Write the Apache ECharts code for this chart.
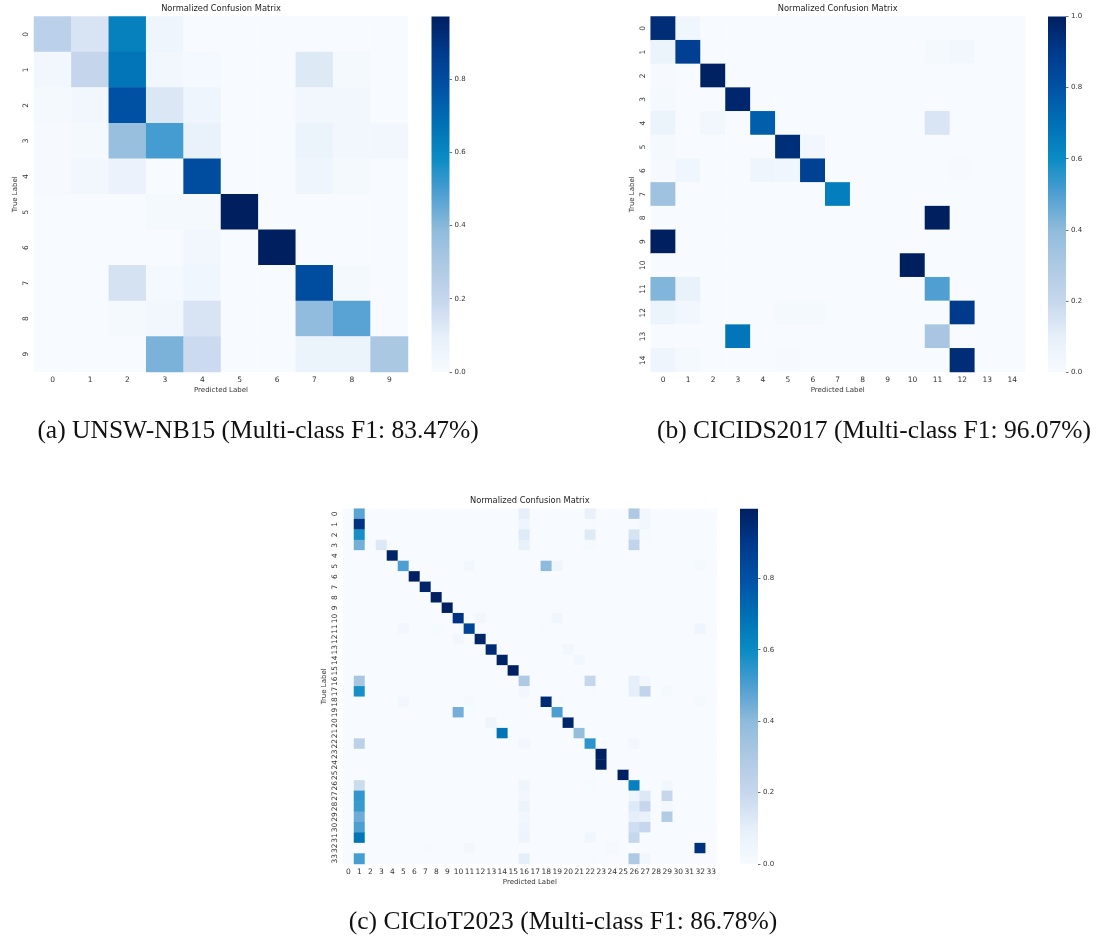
<!DOCTYPE html>
<html><head><meta charset="utf-8">
<style>html,body{margin:0;padding:0;background:#fff}#c{width:1100px;height:941px}</style>
<script src="https://cdn.jsdelivr.net/npm/echarts@6/dist/echarts.min.js"></script>
</head><body><div id="c"></div>
<script>
const chartTitle = 'Normalized Confusion Matrix';
const xName = 'Predicted Label';
const yName = 'True Label';
const captions = ['(a) UNSW-NB15 (Multi-class F1: 83.47%)','(b) CICIDS2017 (Multi-class F1: 96.07%)','(c) CICIoT2023 (Multi-class F1: 86.78%)'];
const barTicks = [0,0.2,0.4,0.6,0.8,1.0];
const blues = ['#f7fbff','#e6eff9','#c6d7ed','#aec9e4','#8fbbdc','#4f9fd2','#0a8cc4','#0070b5','#0052a5','#003a8c','#001f5f'];

// True-label rows, predicted-label columns
const unswMatrix = [
 [.24,.14,.62,.05,0,0,0,0,0,0],
 [.03,.20,.66,.03,.02,0,0,.12,.015,0],
 [.015,.03,.78,.13,.05,0,0,.035,.03,0],
 [.005,.015,.36,.50,.08,0,0,.06,.03,.03],
 [.005,.03,.07,0,.80,0,0,.05,.015,0],
 [0,0,0,.015,.015,.97,0,0,0,0],
 [0,0,0,0,.03,0,.97,0,0,0],
 [0,0,.15,.02,.04,0,0,.80,.015,0],
 [0,0,.015,.03,.14,0,0,.38,.47,0],
 [0,0,0,.42,.18,0,0,.06,.06,.30]
];
const cicids2017Matrix = [
 [.95,.04,0,0,0,0,0,0,0,0,0,0,0,0,0],
 [.07,.88,0,0,0,0,0,0,0,0,0,.015,.03,0,0],
 [.005,0,.99,0,0,0,0,0,0,0,0,0,0,0,0],
 [.02,0,0,.97,0,0,0,0,0,0,0,0,0,0,0],
 [.07,0,.03,0,.76,0,0,0,0,0,0,.14,0,0,0],
 [.02,0,0,0,0,.94,.03,0,0,0,0,0,0,0,0],
 [.005,.04,0,0,.05,.04,.87,0,0,0,0,0,.005,0,0],
 [.35,0,0,0,0,0,0,.65,0,0,0,0,0,0,0],
 [0,0,0,0,0,0,0,0,0,0,0,1,0,0,0],
 [1,0,0,0,0,0,0,0,0,0,0,0,0,0,0],
 [0,0,0,0,0,0,0,0,0,0,1,0,0,0,0],
 [.42,.08,0,0,0,0,0,0,0,0,0,.50,0,0,0],
 [.07,.03,0,0,0,.015,.015,0,0,0,0,0,.90,0,0],
 [0,0,0,.68,0,0,0,0,0,0,0,.32,0,0,0],
 [.05,.02,0,0,0,.005,0,0,0,0,0,0,.95,0,0]
];
// Sparse reading of the 34-class matrix: [row, col, value]
const ciciotCells = [
 [0,1,.48],[0,16,.10],[0,22,.08],[0,26,.30],[0,27,.03],
 [1,1,.92],[1,16,.05],[1,22,.005],[1,27,.03],
 [2,1,.58],[2,16,.12],[2,22,.12],[2,26,.15],[2,27,.01],
 [3,1,.44],[3,3,.13],[3,16,.09],[3,22,.015],[3,26,.22],
 [4,4,.98],
 [5,5,.50],[5,11,.03],[5,18,.40],[5,19,.05],[5,32,.015],
 [6,6,.99],[7,7,.97],[8,8,.99],[9,9,.99],
 [10,10,.92],[10,12,.03],[10,19,.04],
 [11,5,.03],[11,8,.01],[11,11,.85],[11,18,.005],[11,32,.05],
 [12,10,.03],[12,12,.97],
 [13,13,.95],[13,20,.03],
 [14,14,.98],[14,21,.03],
 [15,15,.99],
 [16,1,.32],[16,16,.30],[16,22,.20],[16,26,.10],[16,27,.03],
 [17,1,.58],[17,16,.03],[17,22,.005],[17,26,.10],[17,27,.22],[17,29,.015],
 [18,5,.03],[18,11,.015],[18,18,.95],[18,19,.005],[18,32,.015],
 [19,10,.44],[19,19,.50],
 [20,13,.06],[20,20,.97],
 [21,14,.68],[21,21,.38],
 [22,1,.24],[22,16,.03],[22,22,.55],[22,26,.03],
 [23,23,.99],[24,23,.99],[25,25,.99],
 [26,1,.18],[26,16,.05],[26,22,.01],[26,26,.64],[26,29,.03],
 [27,1,.54],[27,16,.03],[27,26,.05],[27,27,.13],[27,29,.20],
 [28,1,.53],[28,16,.07],[28,26,.12],[28,27,.20],[28,29,.03],
 [29,1,.45],[29,16,.03],[29,26,.10],[29,27,.08],[29,29,.28],
 [30,1,.50],[30,16,.05],[30,26,.17],[30,27,.20],
 [31,1,.68],[31,16,.06],[31,22,.04],[31,26,.20],
 [32,7,.005],[32,11,.025],[32,24,.015],[32,32,.93],
 [33,1,.51],[33,16,.10],[33,22,.005],[33,26,.30],[33,27,.03]
];

const FONT = 'DejaVu Sans', INK = '#333';
function toTriples(m){const o=[];m.forEach((r,i)=>r.forEach((v,j)=>o.push([j,i,v])));return o;}
function sparseToTriples(cells,n){
  const o=[];for(let i=0;i<n;i++)for(let j=0;j<n;j++)o.push([j,i,0]);
  cells.forEach(([r,c,v])=>{o[r*n+c][2]=v;});return o;
}
const barGradient = new echarts.graphic.LinearGradient(0,1,0,0,
  blues.map((c,i)=>({offset:i/(blues.length-1),color:c})));
const panels = [
 {n:10,data:toTriples(unswMatrix),max:.97,x:34,y:16.5,w:374,h:355.5,bx:431.5,bw:18},
 {n:15,data:toTriples(cicids2017Matrix),max:1,x:650.7,y:16.5,w:374,h:355.5,bx:1048,bw:18},
 {n:34,data:sparseToTriples(ciciotCells,34),max:.995,x:343,y:508.7,w:373.7,h:355.3,bx:740,bw:18}
];
const grid=[],xAxis=[],yAxis=[],series=[],visualMap=[],title=[];
panels.forEach((p,k)=>{
  const cats=Array.from({length:p.n},(_,i)=>String(i));
  grid.push({left:p.x,top:p.y,width:p.w,height:p.h});
  const axisCommon={type:'category',data:cats,axisLine:{show:false},splitLine:{show:false},
    axisTick:{alignWithLabel:true,length:2.5,lineStyle:{color:INK,width:.7}}};
  xAxis.push({...axisCommon,gridIndex:2*k,name:xName,nameLocation:'middle',nameGap:15,
    nameTextStyle:{fontFamily:FONT,fontSize:7,color:INK},
    axisLabel:{interval:0,fontFamily:FONT,fontSize:7.5,color:INK,margin:4}});
  yAxis.push({...axisCommon,gridIndex:2*k,inverse:true,name:yName,nameLocation:'middle',nameGap:15,
    nameTextStyle:{fontFamily:FONT,fontSize:7,color:INK},
    axisLabel:{interval:0,rotate:90,fontFamily:FONT,fontSize:7.5,color:INK,margin:4}});
  visualMap.push({type:'continuous',show:false,seriesIndex:series.length,min:0,max:p.max,dimension:2,
    inRange:{color:blues}});
  series.push({type:'heatmap',xAxisIndex:2*k,yAxisIndex:2*k,data:p.data,silent:true,
    progressive:0,emphasis:{disabled:true}});
  // colour bar: a single bar spanning the value range, with tick labels on its right
  grid.push({left:p.bx,top:p.y,width:p.bw,height:p.h});
  const ticks=barTicks.filter(t=>t<=p.max);
  xAxis.push({type:'category',data:[''],gridIndex:2*k+1,show:false});
  yAxis.push({type:'value',gridIndex:2*k+1,position:'right',min:0,max:p.max,
    axisLine:{show:false,onZero:false},splitLine:{show:false},
    axisTick:{show:true,length:2.5,customValues:ticks,lineStyle:{color:INK,width:.7}},
    axisLabel:{customValues:ticks,formatter:v=>v.toFixed(1),fontFamily:FONT,fontSize:7,color:INK,margin:5,
      showMinLabel:true,showMaxLabel:true}});
  series.push({type:'bar',xAxisIndex:2*k+1,yAxisIndex:2*k+1,data:[p.max],barWidth:'100%',silent:true,
    itemStyle:{color:barGradient}});
  title.push({text:chartTitle,left:p.x+p.w/2,top:p.y-11.5,textAlign:'center',padding:0,
    textStyle:{fontFamily:FONT,fontSize:8.3,fontWeight:'normal',color:'#222'}});
});
[[258,418],[874,418],[563,909]].forEach(([cx,ty],i)=>{
  title.push({text:captions[i],left:cx,top:ty,textAlign:'center',padding:0,
    textStyle:{fontFamily:'Liberation Serif',fontSize:25.5,fontWeight:'normal',color:'#111'}});
});
const chart=echarts.init(document.getElementById('c'),null,{renderer:'canvas'});
chart.setOption({animation:false,backgroundColor:'#fff',title,grid,xAxis,yAxis,series,visualMap,tooltip:{show:false}});
</script></body></html>
